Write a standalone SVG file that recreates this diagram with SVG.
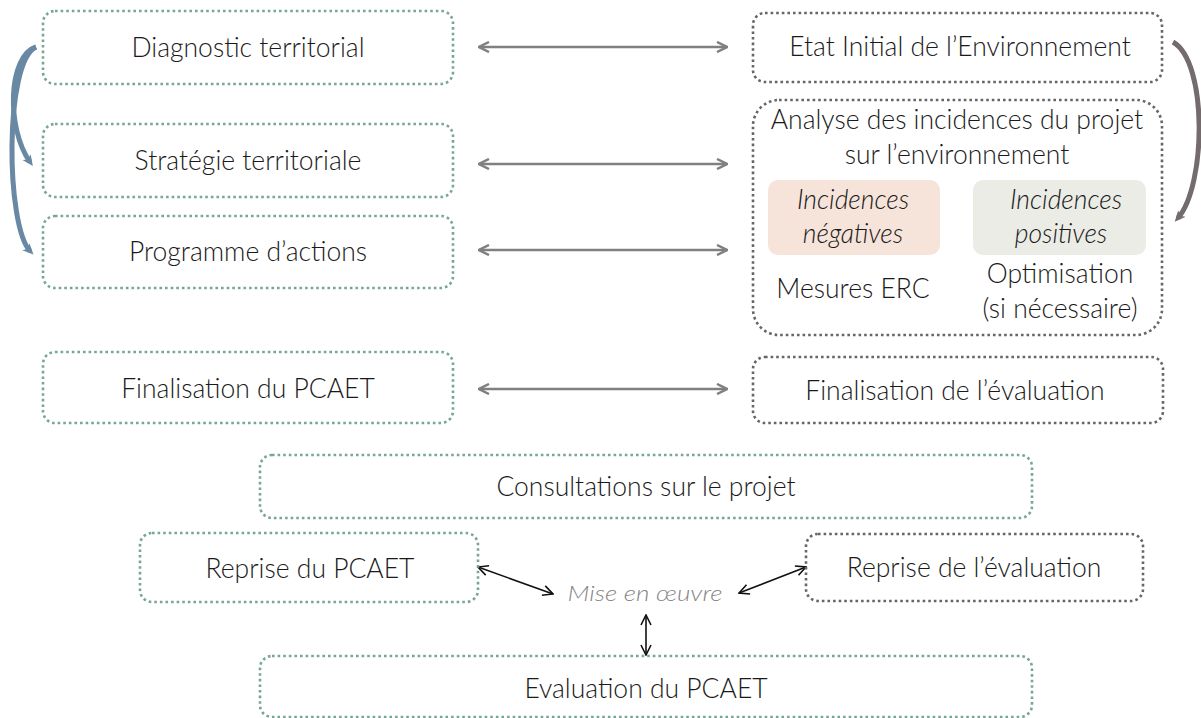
<svg xmlns="http://www.w3.org/2000/svg" width="1201" height="718" viewBox="0 0 1201 718">
<defs>
<style>
.g{fill:none;stroke:#77a698;stroke-width:2.6;stroke-dasharray:2.6 3;}
.d{fill:none;stroke:#6b6365;stroke-width:2.6;stroke-dasharray:2.6 3;}
.t{font-family:Lato,"Liberation Sans",sans-serif;font-weight:300;font-size:26.5px;fill:#1a1a1a;text-anchor:middle;}
.i{font-style:italic;}
.ga{fill:none;stroke:#808080;stroke-width:2.5;}
.ka{fill:none;stroke:#111;stroke-width:1.6;}
.mo{font-family:Lato,"Liberation Sans",sans-serif;font-style:italic;font-weight:300;font-size:21px;fill:#858585;text-anchor:middle;}
</style>
<marker id="ag" viewBox="0 0 12 12" refX="11" refY="6" markerWidth="12" markerHeight="12" markerUnits="userSpaceOnUse" orient="auto-start-reverse">
<path d="M1,1 L11,6 L1,11" fill="none" stroke="#808080" stroke-width="2.5"/>
</marker>
<marker id="ak" viewBox="0 0 12 12" refX="11" refY="6" markerWidth="12" markerHeight="12" markerUnits="userSpaceOnUse" orient="auto-start-reverse">
<path d="M1,1 L11,6 L1,11" fill="none" stroke="#111" stroke-width="1.6"/>
</marker>
<marker id="ab" viewBox="0 0 12 12" refX="6" refY="6" markerWidth="12" markerHeight="12" markerUnits="userSpaceOnUse" orient="auto">
<path d="M0,1 L11,6 L0,11 L3,6 Z" fill="#6888a3"/>
</marker>
<marker id="ad" viewBox="0 0 12 12" refX="6" refY="6" markerWidth="12" markerHeight="12" markerUnits="userSpaceOnUse" orient="auto">
<path d="M0,1 L11,6 L0,11 L3,6 Z" fill="#736b6c"/>
</marker>
</defs>
<rect width="1201" height="718" fill="#fff"/>

<g id="connectors">
<path d="M36,47 C 8,56 6,128 30,162" fill="none" stroke="#6888a3" stroke-width="5" marker-end="url(#ab)"/>
<path d="M36,47 C 4,62 6,226 30,251" fill="none" stroke="#6888a3" stroke-width="5" marker-end="url(#ab)"/>
<path d="M1173,42 C 1208,62 1206,186 1178,218" fill="none" stroke="#736b6c" stroke-width="5" marker-end="url(#ad)"/>
<line class="ga" x1="479" y1="47" x2="727" y2="47" marker-start="url(#ag)" marker-end="url(#ag)"/>
<line class="ga" x1="479" y1="164" x2="727" y2="164" marker-start="url(#ag)" marker-end="url(#ag)"/>
<line class="ga" x1="479" y1="250" x2="727" y2="250" marker-start="url(#ag)" marker-end="url(#ag)"/>
<line class="ga" x1="479" y1="389" x2="727" y2="389" marker-start="url(#ag)" marker-end="url(#ag)"/>
<line class="ka" x1="478" y1="567" x2="553" y2="594" marker-start="url(#ak)" marker-end="url(#ak)"/>
<line class="ka" x1="739" y1="593" x2="806" y2="567" marker-start="url(#ak)" marker-end="url(#ak)"/>
<line class="ka" x1="646" y1="615" x2="646" y2="655" marker-start="url(#ak)" marker-end="url(#ak)"/>
</g>

<g id="diagnostic">
<rect class="g" x="43" y="11" width="410" height="73" rx="12"/>
<text class="t" x="248" y="57">Diagnostic territorial</text>
</g>
<g id="strategie">
<rect class="g" x="43" y="124" width="410" height="73" rx="12"/>
<text class="t" x="248" y="170">Stratégie territoriale</text>
</g>
<g id="programme">
<rect class="g" x="43" y="216" width="410" height="72" rx="12"/>
<text class="t" x="248" y="261">Programme d’actions</text>
</g>
<g id="finalisation-pcaet">
<rect class="g" x="43" y="352" width="410" height="71" rx="12"/>
<text class="t" x="248" y="398">Finalisation du PCAET</text>
</g>

<g id="etat-initial">
<rect class="d" x="753" y="13" width="409" height="69" rx="12"/>
<text class="t" x="960" y="56">Etat Initial de l’Environnement</text>
</g>
<g id="analyse">
<rect class="d" x="753" y="100" width="409" height="235" rx="26"/>
<text class="t" x="957" y="129">Analyse des incidences du projet</text>
<text class="t" x="957" y="164">sur l’environnement</text>
<rect x="768" y="180" width="172" height="75" rx="10" fill="#f6e4da"/>
<rect x="973" y="180" width="173" height="75" rx="10" fill="#ebece6"/>
<text class="t i" x="853" y="209">Incidences</text>
<text class="t i" x="853" y="243">négatives</text>
<text class="t i" x="1066" y="209">Incidences</text>
<text class="t i" x="1061" y="243">positives</text>
<text class="t" x="853" y="298">Mesures ERC</text>
<text class="t" x="1060" y="283">Optimisation</text>
<text class="t" x="1060" y="318">(si nécessaire)</text>
</g>
<g id="finalisation-evaluation">
<rect class="d" x="753" y="357" width="410" height="66" rx="12"/>
<text class="t" x="955" y="400">Finalisation de l’évaluation</text>
</g>

<g id="consultations">
<rect class="g" x="260" y="455" width="772" height="63" rx="12"/>
<text class="t" x="646" y="496">Consultations sur le projet</text>
</g>
<g id="reprise-pcaet">
<rect class="g" x="140" y="533" width="338" height="69" rx="12"/>
<text class="t" x="310" y="578">Reprise du PCAET</text>
</g>
<g id="reprise-evaluation">
<rect class="d" x="806" y="534" width="337" height="67" rx="12"/>
<text class="t" x="974" y="577">Reprise de l’évaluation</text>
</g>
<g id="mise-en-oeuvre">
<text class="mo" x="645" y="601" textLength="155" lengthAdjust="spacingAndGlyphs">Mise en œuvre</text>
</g>
<g id="evaluation-pcaet">
<rect class="g" x="260" y="656" width="772" height="61" rx="12"/>
<text class="t" x="646" y="698">Evaluation du PCAET</text>
</g>
</svg>
